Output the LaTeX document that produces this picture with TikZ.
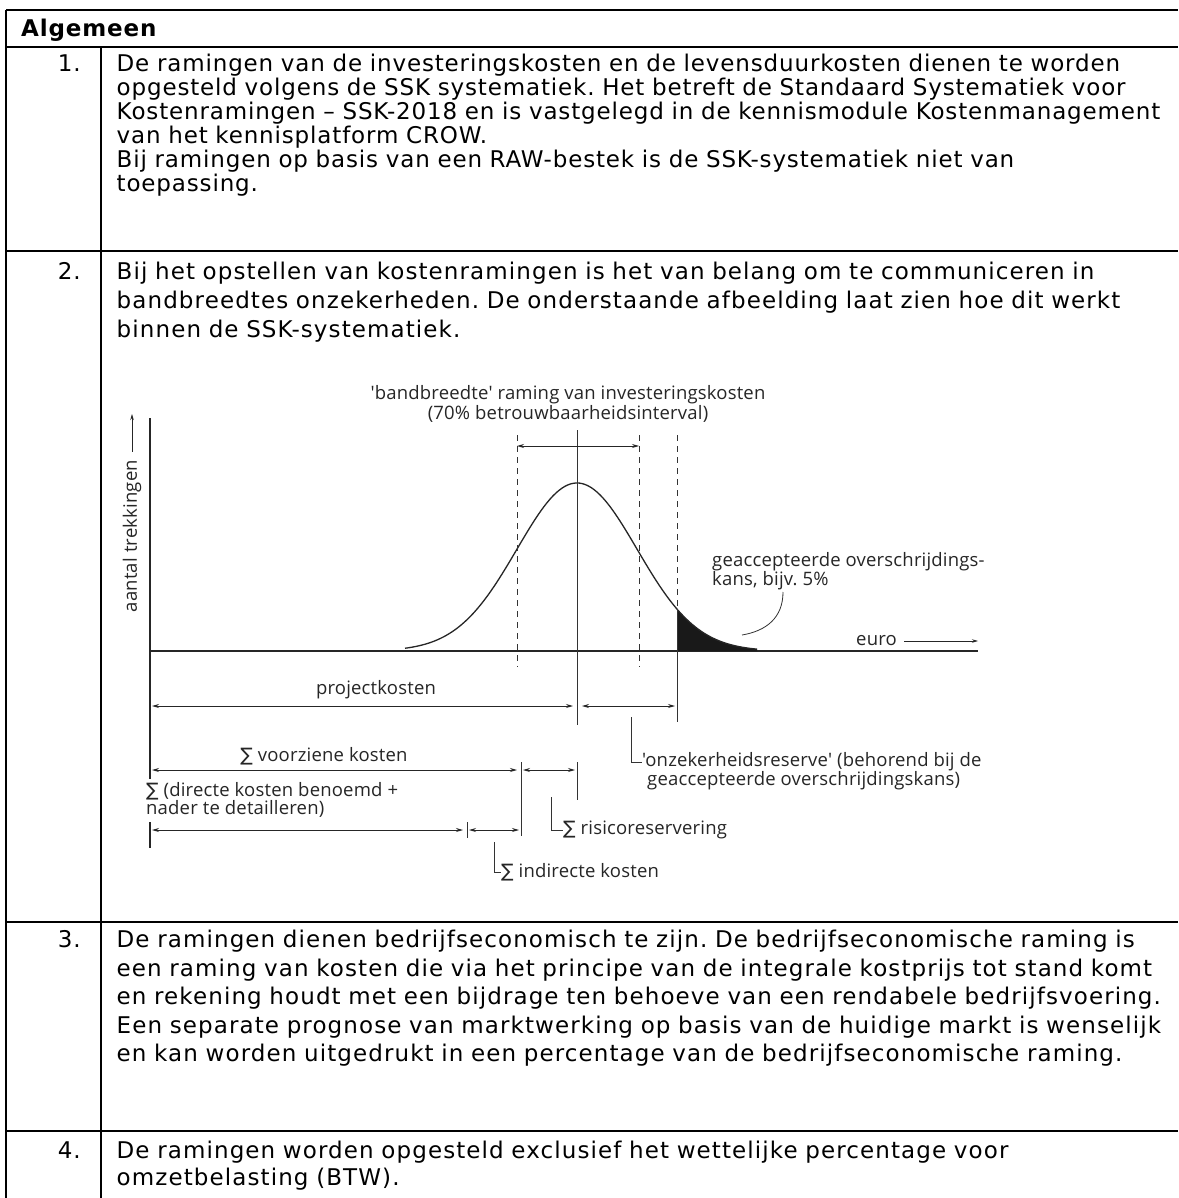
\documentclass[tikz,border=0pt]{standalone}
\usepackage{fontspec}
\usetikzlibrary{arrows.meta}
\newfontfamily\bodyfont{DejaVu Sans}[LetterSpace=3.7]
\newfontfamily\widefont{DejaVu Sans}[LetterSpace=4.8]
\newfontfamily\chartfont{Open Sans}[LetterSpace=1.0]
\newfontfamily\symfont{DejaVu Sans}
\newcommand{\sumsign}{{\symfont ∑}}

\tikzset{
  tablerule/.style={line width=1.8pt, black},
  cellnum/.style={anchor=base east, inner sep=0pt, font=\widefont\fontsize{23}{24}\selectfont},
  celltext/.style={anchor=base west, inner sep=0pt, text width=1100pt, align=left},
  chartlabel/.style={inner sep=0pt, text=black!85, font=\chartfont\fontsize{18.5}{18}\selectfont},
  axisline/.style={line width=1.3pt, black!85},
  guide/.style={line width=0.8pt, black!80, dash pattern=on 6pt off 5pt},
  dimarrow/.style={{Stealth[length=7pt,width=4pt]}-{Stealth[length=7pt,width=4pt]}, line width=0.9pt, black!85},
  leader/.style={line width=0.8pt, black!80}
}

\begin{document}
\frenchspacing
\begin{tikzpicture}[x=1pt,y=-1pt]
    \useasboundingbox[fill=white] (0,0) rectangle (1178,1198);

    \draw[tablerule] (6,10) -- (1178,10);
    \draw[tablerule] (6,47) -- (1178,47);
    \draw[tablerule] (6,251) -- (1178,251);
    \draw[tablerule] (6,922) -- (1178,922);
    \draw[tablerule] (6,1131) -- (1178,1131);
    \draw[tablerule] (6,10) -- (6,1198);
    \draw[tablerule] (101,47) -- (101,1198);

    \node[anchor=base west, inner sep=0pt, font=\bodyfont\bfseries\fontsize{23}{24}\selectfont] (head) at (21,37) {Algemeen};

    \node[cellnum] (num1) at (81,71.5) {1.};
    \node[celltext, font=\bodyfont\fontsize{23}{24}\selectfont] (text1) at (116.5,71.5) {De ramingen van de investeringskosten en de levensduurkosten dienen te worden\\
opgesteld volgens de SSK systematiek. Het betreft de Standaard Systematiek voor\\
Kostenramingen – SSK-2018 en is vastgelegd in de kennismodule Kostenmanagement\\
van het kennisplatform CROW.\\
Bij ramingen op basis van een RAW-bestek is de SSK-systematiek niet van\\
toepassing.};

    \node[cellnum] (num2) at (81,279.5) {2.};
    \node[celltext, font=\widefont\fontsize{23}{29}\selectfont] (text2) at (116.5,279.5) {Bij het opstellen van kostenramingen is het van belang om te communiceren in\\
bandbreedtes onzekerheden. De onderstaande afbeelding laat zien hoe dit werkt\\
binnen de SSK-systematiek.};

    \node[cellnum] (num3) at (81,947.5) {3.};
    \node[celltext, font=\widefont\fontsize{23}{28.5}\selectfont] (text3) at (116.5,947.5) {De ramingen dienen bedrijfseconomisch te zijn. De bedrijfseconomische raming is\\
een raming van kosten die via het principe van de integrale kostprijs tot stand komt\\
en rekening houdt met een bijdrage ten behoeve van een rendabele bedrijfsvoering.\\
Een separate prognose van marktwerking op basis van de huidige markt is wenselijk\\
en kan worden uitgedrukt in een percentage van de bedrijfseconomische raming.};

    \node[cellnum] (num4) at (81,1158) {4.};
    \node[celltext, font=\widefont\fontsize{23}{27.5}\selectfont] (text4) at (116.5,1158) {De ramingen worden opgesteld exclusief het wettelijke percentage voor\\
omzetbelasting (BTW).};

    \draw[axisline] (150,418) -- (150,779);
    \draw[axisline] (150,822) -- (150,848);
    \draw[axisline] (150,651) -- (978,651);
    \node[chartlabel, rotate=90] (ylabel) at (132,536) {aantal trekkingen};
    \coordinate (ytop) at (132,414);
    \draw[-{Stealth[length=6pt,width=3.5pt]}, line width=0.8pt, black!85, shorten <=8pt] (ylabel.east) -- (ytop);
    \node[chartlabel, anchor=west] (euro) at (856,641) {euro};
    \coordinate (xend) at (978,641);
    \draw[-{Stealth[length=6pt,width=3.5pt]}, line width=0.8pt, black!85, shorten <=7pt] (euro.east) -- (xend);

    \fill[black!90] plot[domain=677:757, samples=30] (\x,{651-168*exp(-0.5*((\x-577)/60)^2)}) -- (757,651) -- (677,651) -- cycle;
    \draw[line width=1.3pt, black!85] plot[domain=405:757, samples=120] (\x,{651-168*exp(-0.5*((\x-577)/60)^2)});

    \draw[guide] (517,435) -- (517,667);
    \draw[guide] (639,435) -- (639,667);
    \draw[guide] (677,435) -- (677,609);
    \draw[leader] (677,609) -- (677,722);
    \draw[leader] (577,430) -- (577,725);

    \node[chartlabel, align=center] (band) at (568,404) {'bandbreedte' raming van investeringskosten\\(70\% betrouwbaarheidsinterval)};
    \coordinate (bandL) at (517,446);
    \coordinate (bandR) at (639,446);
    \draw[dimarrow] (bandL) -- (bandR);

    \node[chartlabel, anchor=north west, align=left] (kans) at (712,552) {geaccepteerde overschrijdings-\\kans, bijv. 5\%};
    \coordinate (kansfoot) at (783,592);
    \coordinate (tailtip) at (742,635);
    \draw[leader] (kansfoot) .. controls (783,618) and (766,631) .. (tailtip);

    \node[chartlabel] (project) at (376,690) {projectkosten};
    \coordinate (pkL) at (152,706);
    \coordinate (pkR) at (573,706);
    \coordinate (onzL) at (582,706);
    \coordinate (onzR) at (675,706);
    \draw[dimarrow] (pkL) -- (pkR);
    \draw[dimarrow] (onzL) -- (onzR);
    \node[chartlabel, anchor=west, align=left] (onzek) at (642,771) {'onzekerheidsreserve' (behorend bij de\\\ geaccepteerde overschrijdingskans)};
    \coordinate (onzfoot) at (631,717);
    \draw[leader] (onzfoot) |- ([yshift=9pt]onzek.west);

    \node[chartlabel] (voorzien) at (324,756) {\sumsign\ voorziene kosten};
    \coordinate (vkL) at (152,770);
    \coordinate (vkR) at (517,770);
    \coordinate (rrL) at (523,770);
    \coordinate (rrR) at (575,770);
    \draw[dimarrow] (vkL) -- (vkR);
    \draw[dimarrow] (rrL) -- (rrR);
    \draw[leader] (521,762) -- (521,836);
    \draw[leader] (577,762) -- (577,800);
    \node[chartlabel, anchor=west] (risico) at (563,830) {\sumsign\ risicoreservering};
    \coordinate (rrfoot) at (551,797);
    \draw[leader] (rrfoot) |- (risico.west);

    \node[chartlabel, anchor=north west, align=left] (directe) at (146,782) {\sumsign\ (directe kosten benoemd +\\nader te detailleren)};
    \coordinate (dkL) at (152,830);
    \coordinate (dkR) at (463,830);
    \coordinate (ikL) at (469,830);
    \coordinate (ikR) at (519,830);
    \draw[dimarrow] (dkL) -- (dkR);
    \draw[dimarrow] (ikL) -- (ikR);
    \draw[leader] (467,822) -- (467,838);
    \node[chartlabel, anchor=west] (indirect) at (501,872) {\sumsign\ indirecte kosten};
    \coordinate (ikfoot) at (494,842);
    \draw[leader] (ikfoot) |- (indirect.west);
\end{tikzpicture}
\end{document}
